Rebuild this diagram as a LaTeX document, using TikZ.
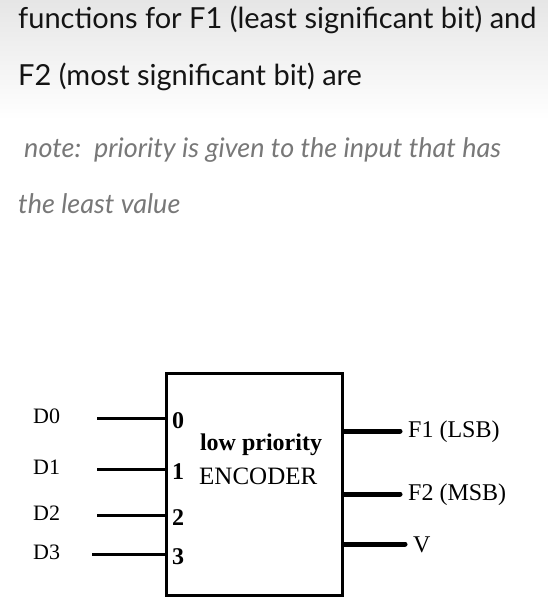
\documentclass[tikz,border=0pt]{standalone}
\usepackage{fontspec}
\setmainfont{Liberation Serif}
\newfontfamily\uifont{Lato}
\definecolor{headgray}{RGB}{20,20,20}
\definecolor{notegray}{RGB}{120,120,120}
\definecolor{bandgray}{RGB}{230,230,230}
\usepackage{tikz}

\begin{document}
\begin{tikzpicture}[x=1pt, y=-1pt,
    lbl/.style={anchor=west, inner sep=0pt, font=\fontsize{22}{22}\selectfont},
    pin/.style={anchor=west, inner sep=0pt, font=\fontsize{24}{24}\selectfont\bfseries},
    head/.style={anchor=base west, inner sep=0pt, text=headgray, font=\uifont\fontsize{29}{29}\selectfont},
    note/.style={anchor=base west, inner sep=0pt, text=notegray, font=\uifont\itshape\fontsize{27}{27}\selectfont}]
    \useasboundingbox (0,0) rectangle (548,608);

    % Fondo
    \shade[top color=bandgray, bottom color=white] (0,0) rectangle (548,120);

    % Enunciado
    \node[head] (h1) at (18,28) {functions for F1 (least significant bit) and};
    \node[head] (h2) at (18,85) {F2 (most significant bit) are};
    \node[note] (n1) at (24,157) {note:\, priority is given to the input that has};
    \node[note] (n2) at (18,213) {the least value};

    % Codificador
    \node[draw, line width=3pt, minimum width=176pt, minimum height=222pt,
          anchor=north west, inner sep=0pt] (enc) at (164.5,371.5) {};
    \node[font=\fontsize{24}{24}\selectfont\bfseries, inner sep=0pt] (name) at (261,445) {low priority};
    \node[anchor=west, inner sep=0pt, font=\fontsize{25}{25}\selectfont] (name2) at (199,476) {ENCODER};

    % Entradas
    \foreach \i/\y/\s in {0/418/97, 1/469/97, 2/515/97, 3/554/92} {
        \node[lbl] (d\i) at (33,\y-2) {D\i};
        \coordinate (s\i) at (\s,\y);
        \draw[line width=3pt] (s\i) -- (s\i -| enc.west);
        \node[pin] (p\i) at (172,\y+3) {\i};
    }

    % Salidas
    \foreach \o/\y/\e/\label in {f1/431/400/F1 (LSB), f2/494/400/F2 (MSB), v/544/405/V} {
        \coordinate (e\o) at (\e,\y);
        \draw[line width=5pt, line cap=round] (e\o -| enc.east) -- (e\o);
        \node[lbl, font=\fontsize{24}{24}\selectfont] (l\o) at (\e+8,\y+1) {\label};
    }
\end{tikzpicture}
\end{document}
